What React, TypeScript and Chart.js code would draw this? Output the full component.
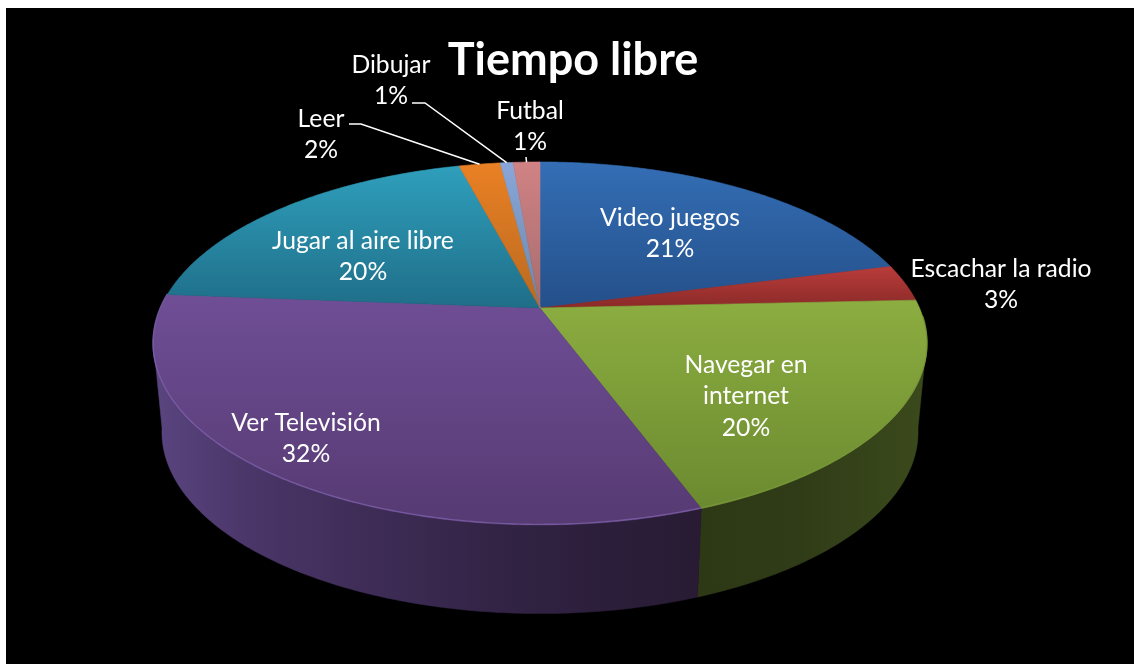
import React, { useEffect, useRef } from "react";
import { Chart, registerables } from "chart.js";

Chart.register(...registerables);

const chartTitle = "Tiempo libre";
const categories = ["Video juegos", "Escachar la radio", "Navegar en internet", "Ver Televisión", "Jugar al aire libre", "Leer", "Dibujar", "Futbal"];
const values = [21, 3.28, 20.08, 31.89, 19.67, 2.08, 0.65, 1.35];
const percentLabels = ["21%", "3%", "20%", "32%", "20%", "2%", "1%", "1%"];

const topColors = ["#346eb5", "#b93c3a", "#8cad40", "#6f4e96", "#2f9fbc", "#ea8024", "#8aa6d8", "#d08284"];
const bottomColors = ["#24508a", "#8a2a28", "#6b8a30", "#563a72", "#1f6e88", "#b96a20", "#6a88aa", "#a66c6e"];
const rimColors: (string | null)[] = [null, null, "#7a9838", "#7f63ae", null, null, null, null];
const wallStops: Record<number, [number, string][]> = {
  2: [[697, "#2d3815"], [800, "#303c17"], [925, "#3b4a1c"]],
  3: [[153, "#5a4580"], [250, "#4a3668"], [400, "#3b2a52"], [540, "#2f2140"], [697, "#281b33"]],
};

const labelLines: string[][] = [["Video juegos"], ["Escachar la radio"], ["Navegar en", "internet"], ["Ver Televisión"], ["Jugar al aire libre"], ["Leer"], ["Dibujar"], ["Futbal"]];
const labelCentres: [number, number][] = [[670, 218], [1001, 269], [746, 365], [306, 423], [363, 241], [321, 119], [391, 65], [530, 111]];
const lineStep = 31.5;
const leaderStarts: (([number, number])[] | null)[] = [null, null, null, null, null, [[349, 124], [361, 124]], [[412, 103], [425, 103]], [[526, 157]]];

const CX = 540, CY = 308, RX = 379.5, RY = 174.6, K = 0.1956;
const WALL_DY = 88.5, WALL_SX = 0.977;
const FRONT_A = (10 * Math.PI) / 180, FRONT_B = (170 * Math.PI) / 180;
const FONT = "Lato, 'Open Sans', sans-serif";

const rim = (a: number): [number, number] => {
  const u = Math.cos(a), v = Math.sin(a), d = 1 - K * v;
  return [CX + (RX * u) / d, CY + (RY * v) / d];
};
const base = (a: number): [number, number] => {
  const [x, y] = rim(a);
  return [CX + (x - CX) * WALL_SX, y + WALL_DY];
};
const samples = (a: number, b: number) => {
  const n = Math.max(2, Math.ceil((b - a) / 0.01));
  const out: number[] = [];
  for (let i = 0; i <= n; i++) out.push(a + ((b - a) * i) / n);
  return out;
};

const pie3d = {
  id: "pie3d",
  beforeDatasetsDraw(chart: any) {
    const ctx: CanvasRenderingContext2D = chart.ctx;
    const arcs = chart.getDatasetMeta(0).data;
    ctx.save();
    ctx.translate(-6, -8);
    // side wall
    arcs.forEach((arc: any, i: number) => {
      const stops = wallStops[i];
      if (!stops) return;
      const a = Math.max(arc.startAngle, FRONT_A), b = Math.min(arc.endAngle, FRONT_B);
      if (b <= a) return;
      const pts = samples(a, b);
      const g = ctx.createLinearGradient(stops[0][0], 0, stops[stops.length - 1][0], 0);
      const span = stops[stops.length - 1][0] - stops[0][0];
      stops.forEach(([x, c]) => g.addColorStop((x - stops[0][0]) / span, c));
      ctx.beginPath();
      pts.forEach((t, j) => { const p = rim(t); j ? ctx.lineTo(p[0], p[1]) : ctx.moveTo(p[0], p[1]); });
      pts.slice().reverse().forEach((t) => { const p = base(t); ctx.lineTo(p[0], p[1]); });
      ctx.closePath();
      ctx.fillStyle = g;
      ctx.strokeStyle = g;
      ctx.lineWidth = 0.5;
      ctx.fill();
      ctx.stroke();
    });
    // top surface
    arcs.forEach((arc: any, i: number) => {
      const pts = samples(arc.startAngle, arc.endAngle).map(rim);
      const ys = pts.map((p) => p[1]).concat(CY);
      const g = ctx.createLinearGradient(0, Math.min(...ys), 0, Math.max(...ys));
      g.addColorStop(0, topColors[i]);
      g.addColorStop(1, bottomColors[i]);
      ctx.beginPath();
      ctx.moveTo(CX, CY);
      pts.forEach((p) => ctx.lineTo(p[0], p[1]));
      ctx.closePath();
      ctx.fillStyle = g;
      ctx.strokeStyle = g;
      ctx.lineWidth = 0.6;
      ctx.fill();
      ctx.stroke();
    });
    // bevel on the front rim
    arcs.forEach((arc: any, i: number) => {
      const colour = rimColors[i];
      if (!colour) return;
      const a = Math.max(arc.startAngle, 0.05), b = Math.min(arc.endAngle, Math.PI + 0.2);
      if (b <= a) return;
      ctx.beginPath();
      samples(a, b).forEach((t, j) => { const p = rim(t); j ? ctx.lineTo(p[0], p[1] - 0.7) : ctx.moveTo(p[0], p[1] - 0.7); });
      ctx.strokeStyle = colour;
      ctx.globalAlpha = 0.75;
      ctx.lineWidth = 1.4;
      ctx.stroke();
      ctx.globalAlpha = 1;
    });
    ctx.restore();
    return false;
  },
  afterDraw(chart: any) {
    const ctx: CanvasRenderingContext2D = chart.ctx;
    const arcs = chart.getDatasetMeta(0).data;
    ctx.save();
    ctx.translate(-6, -8);
    ctx.fillStyle = "#ffffff";
    ctx.textAlign = "center";
    ctx.textBaseline = "middle";
    ctx.font = `bold 45px ${FONT}`;
    ctx.fillText(chartTitle, 573, 60);
    ctx.font = `24.7px ${FONT}`;
    labelLines.forEach((lines, i) => {
      const [x, y] = labelCentres[i];
      [...lines, percentLabels[i]].forEach((t, j) => ctx.fillText(t, x, y + j * lineStep));
    });
    ctx.strokeStyle = "#ffffff";
    ctx.lineWidth = 1.5;
    leaderStarts.forEach((start, i) => {
      if (!start) return;
      const arc = arcs[i];
      const end = rim((arc.startAngle + arc.endAngle) / 2);
      ctx.beginPath();
      start.forEach((p, j) => (j ? ctx.lineTo(p[0], p[1]) : ctx.moveTo(p[0], p[1])));
      ctx.lineTo(end[0], end[1]);
      ctx.stroke();
    });
    ctx.restore();
  },
};

export default function App() {
  const ref = useRef<HTMLCanvasElement>(null);
  useEffect(() => {
    const chart = new Chart(ref.current!, {
      type: "pie",
      data: { labels: categories, datasets: [{ data: values, backgroundColor: topColors, borderWidth: 0 }] },
      options: {
        responsive: false,
        animation: false,
        plugins: { legend: { display: false }, tooltip: { enabled: false } },
      },
      plugins: [pie3d],
    } as any);
    return () => chart.destroy();
  }, []);
  return (
    <canvas
      ref={ref}
      width={1128}
      height={656}
      style={{ position: "absolute", left: 6, top: 8, width: 1128, height: 656, background: "#000", display: "block" }}
    />
  );
}
